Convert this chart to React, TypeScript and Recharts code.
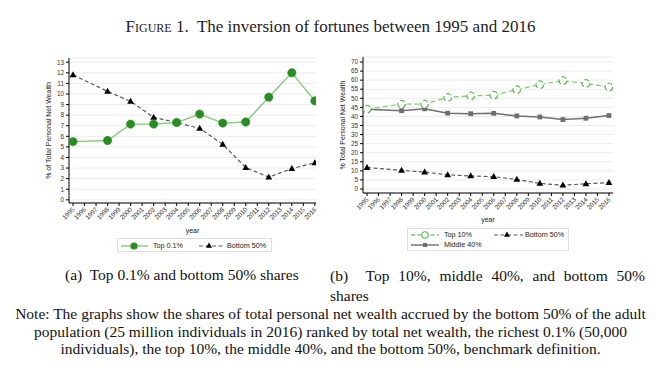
import React from 'react';
import { LineChart, Line, XAxis, YAxis, CartesianGrid, Label } from 'recharts';

// survey years (every other year)
const years = [1995, 1998, 2000, 2002, 2004, 2006, 2008, 2010, 2012, 2014, 2016];
const yearTicks = [1995, 1996, 1997, 1998, 1999, 2000, 2001, 2002, 2003, 2004, 2005, 2006, 2007, 2008, 2009, 2010, 2011, 2012, 2013, 2014, 2015, 2016];

// panel (a)
const top01 = [5.5, 5.6, 7.15, 7.15, 7.3, 8.1, 7.25, 7.35, 9.7, 12.0, 9.35];
const bottom50 = [11.8, 10.25, 9.3, 7.8, 7.3, 6.75, 5.25, 3.05, 2.15, 2.95, 3.5];
const ticksA = [0, 1, 2, 3, 4, 5, 6, 7, 8, 9, 10, 11, 12, 13];

// panel (b)
const top10 = [44.0, 46.8, 46.8, 50.5, 51.3, 51.7, 54.8, 57.5, 59.7, 58.2, 56.2];
const middle40 = [44.0, 43.2, 44.2, 41.8, 41.5, 41.7, 40.3, 39.7, 38.3, 39.0, 40.5];
const bottom50b = [11.8, 10.3, 9.3, 7.8, 7.2, 6.8, 5.3, 3.1, 2.1, 2.9, 3.5];
const ticksB = [0, 5, 10, 15, 20, 25, 30, 35, 40, 45, 50, 55, 60, 65, 70];

const dataA = years.map((year, i) => ({ year, top01: top01[i], bottom50: bottom50[i] }));
const dataB = years.map((year, i) => ({ year, top10: top10[i], middle40: middle40[i], bottom50: bottom50b[i] }));

const SANS = '"Liberation Sans", Arial, sans-serif';
const SERIF = '"Liberation Serif", "Times New Roman", serif';

const GREEN_LINE = '#86c97c';
const GREEN_DOT = '#2a8c24';
const DASH_GREY = '#5a5a5a';
const MID_GREY = '#6e6e6e';

const YearTick = (props: any) => {
    const { x, y, payload } = props;
    return (
        <text x={x + 2} y={y + 2} transform={`rotate(-45 ${x + 2} ${y + 2})`} textAnchor="end" fontSize={6.4} fill="#333" fontFamily={SANS}>
            {payload.value}
        </text>
    );
};

const triangleDot = (props: any) => {
    const { cx, cy, index } = props;
    return <path key={index} d={`M${cx},${cy - 3.6} L${cx + 3.4},${cy + 2.4} L${cx - 3.4},${cy + 2.4} Z`} fill="#000" />;
};

const squareDot = (props: any) => {
    const { cx, cy, index } = props;
    return <rect key={index} x={cx - 2.4} y={cy - 2.4} width={4.8} height={4.8} fill={MID_GREY} />;
};

const legendText: React.CSSProperties = { fontFamily: SANS, fontSize: 7.2, color: '#222', position: 'absolute', whiteSpace: 'nowrap' };

const App: React.FC = () => {
    return (
        <div style={{ position: 'absolute', left: 0, top: 0, width: 661, height: 378, background: '#fff', overflow: 'hidden' }}>
            <div style={{ position: 'absolute', left: 0, top: 17, width: 661, textAlign: 'center', fontFamily: SERIF, fontSize: 17, color: '#222', whiteSpace: 'nowrap' }}>
                <span style={{ fontVariant: 'small-caps' }}>Figure</span> 1.&nbsp; The inversion of fortunes between 1995 and 2016
            </div>

            {/* panel (a) */}
            <div style={{ position: 'absolute', left: 0, top: 0 }}>
                <LineChart width={330} height={260} data={dataA} margin={{ top: 58, right: 14, bottom: 0, left: 0 }}>
                    <CartesianGrid vertical={false} stroke="#ececec" />
                    <XAxis dataKey="year" type="number" domain={[1994.65, 2016.1]} ticks={yearTicks} interval={0}
                        height={57} tick={<YearTick />} tickSize={3} stroke="#000" allowDataOverflow>
                        <Label value="year" position="insideBottom" offset={27} fontSize={7} fontFamily={SANS} fill="#222" />
                    </XAxis>
                    <YAxis type="number" domain={[-0.3, 13.4]} ticks={ticksA} interval={0} width={69} tickSize={3}
                        stroke="#000" tick={{ fontSize: 6.4, fill: '#333', fontFamily: SANS }} allowDataOverflow>
                        <Label value="% of Total Personal Net Wealth" angle={-90} position="insideLeft" offset={49}
                            style={{ textAnchor: 'middle' }} fontSize={7} fontFamily={SANS} fill="#222" />
                    </YAxis>
                    <Line dataKey="bottom50" stroke={DASH_GREY} strokeWidth={1.2} strokeDasharray="4 2.5" dot={triangleDot} activeDot={false} isAnimationActive={false} />
                    <Line dataKey="top01" stroke={GREEN_LINE} strokeWidth={1.4} dot={{ r: 4.2, fill: GREEN_DOT, stroke: GREEN_DOT, strokeWidth: 0.5 }} activeDot={false} isAnimationActive={false} />
                </LineChart>
            </div>

            {/* legend (a) */}
            <div style={{ position: 'absolute', left: 117, top: 238, width: 155, height: 14, border: '1px solid #dedede', boxSizing: 'border-box' }}>
                <svg width={155} height={14} style={{ position: 'absolute', left: 0, top: 0 }}>
                    <line x1={3} x2={30} y1={7} y2={7} stroke={GREEN_LINE} strokeWidth={1.4} />
                    <circle cx={16} cy={7} r={3.6} fill={GREEN_DOT} />
                    <line x1={81} x2={105} y1={7} y2={7} stroke={DASH_GREY} strokeWidth={1.2} strokeDasharray="4 2.5" />
                    <path d="M91,3.6 L94,8.8 L88,8.8 Z" fill="#000" />
                </svg>
                <span style={{ ...legendText, left: 35, top: 2 }}>Top 0.1%</span>
                <span style={{ ...legendText, left: 109, top: 2 }}>Bottom 50%</span>
            </div>

            {/* panel (b) */}
            <div style={{ position: 'absolute', left: 330, top: 0 }}>
                <LineChart width={331} height={250} data={dataB} margin={{ top: 57, right: 48, bottom: 0, left: 0 }}>
                    <CartesianGrid vertical={false} stroke="#ececec" />
                    <XAxis dataKey="year" type="number" domain={[1994.65, 2016.35]} ticks={yearTicks} interval={0}
                        height={57} tick={<YearTick />} tickSize={3} stroke="#000" allowDataOverflow>
                        <Label value="year" position="insideBottom" offset={28} fontSize={7} fontFamily={SANS} fill="#222" />
                    </XAxis>
                    <YAxis type="number" domain={[-2.2, 72.76]} ticks={ticksB} interval={0} width={33} tickSize={3}
                        stroke="#000" tick={{ fontSize: 6.4, fill: '#333', fontFamily: SANS }} allowDataOverflow>
                        <Label value="% Total Personal Net Wealth" angle={-90} position="insideLeft" offset={13}
                            style={{ textAnchor: 'middle' }} fontSize={7} fontFamily={SANS} fill="#222" />
                    </YAxis>
                    <Line dataKey="bottom50" stroke={DASH_GREY} strokeWidth={1.2} strokeDasharray="4 2.5" dot={triangleDot} activeDot={false} isAnimationActive={false} />
                    <Line dataKey="middle40" stroke={MID_GREY} strokeWidth={1.5} dot={squareDot} activeDot={false} isAnimationActive={false} />
                    <Line dataKey="top10" stroke={GREEN_LINE} strokeWidth={1.3} strokeDasharray="5 3" dot={{ r: 3.8, fill: '#fff', stroke: '#5cb552', strokeWidth: 1.2 }} activeDot={false} isAnimationActive={false} />
                </LineChart>
            </div>

            {/* legend (b) */}
            <div style={{ position: 'absolute', left: 407, top: 228, width: 162, height: 23, border: '1px solid #dedede', boxSizing: 'border-box' }}>
                <svg width={162} height={23} style={{ position: 'absolute', left: 0, top: 0 }}>
                    <line x1={3} x2={31} y1={6} y2={6} stroke={GREEN_LINE} strokeWidth={1.3} strokeDasharray="4 2.5" />
                    <circle cx={17} cy={6} r={3.2} fill="#fff" stroke="#5cb552" strokeWidth={1.1} />
                    <line x1={86} x2={115} y1={6} y2={6} stroke={DASH_GREY} strokeWidth={1.2} strokeDasharray="4 2.5" />
                    <path d="M99,2.6 L102,7.8 L96,7.8 Z" fill="#000" />
                    <line x1={3} x2={31} y1={16} y2={16} stroke={MID_GREY} strokeWidth={1.4} />
                    <rect x={15} y={14} width={4} height={4} fill={MID_GREY} />
                </svg>
                <span style={{ ...legendText, left: 36, top: 1 }}>Top 10%</span>
                <span style={{ ...legendText, left: 117, top: 1 }}>Bottom 50%</span>
                <span style={{ ...legendText, left: 36, top: 11 }}>Middle 40%</span>
            </div>

            {/* captions */}
            <div style={{ position: 'absolute', left: 65, top: 266, fontFamily: SERIF, fontSize: 15.5, color: '#111', whiteSpace: 'nowrap', lineHeight: '18px' }}>
                (a)&nbsp; Top 0.1% and bottom 50% shares
            </div>
            <div style={{ position: 'absolute', left: 330, top: 266, fontFamily: SERIF, fontSize: 15.5, color: '#111', whiteSpace: 'nowrap', lineHeight: '20px' }}>
                <span style={{ wordSpacing: 5 }}>(b)&nbsp; Top 10%, middle 40%, and bottom 50%</span><br />shares
            </div>

            <div style={{ position: 'absolute', left: 0, top: 305, width: 661, textAlign: 'center', fontFamily: SERIF, fontSize: 15.5, color: '#111', whiteSpace: 'nowrap', lineHeight: '17.5px' }}>
                Note: The graphs show the shares of total personal net wealth accrued by the bottom 50% of the adult<br />
                population (25 million individuals in 2016) ranked by total net wealth, the richest 0.1% (50,000<br />
                individuals), the top 10%, the middle 40%, and the bottom 50%, benchmark definition.
            </div>
        </div>
    );
};

export default App;
